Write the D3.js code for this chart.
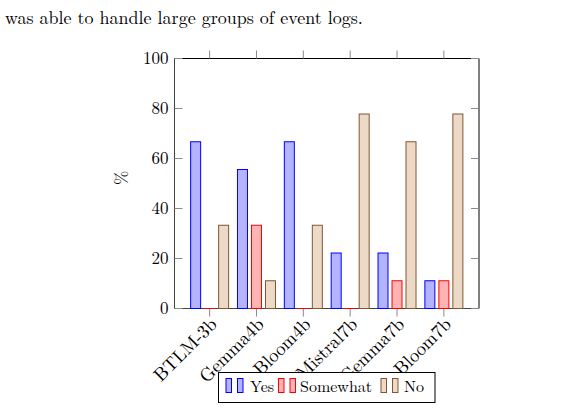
<!DOCTYPE html>
<html><head><meta charset="utf-8">
<script src="https://cdn.jsdelivr.net/npm/d3@7"></script>
</head>
<body style="margin:0;background:#fff"><svg id="c" width="577" height="410"></svg>
<script>
const caption = "was able to handle large groups of event logs.";
const categories = ["BTLM-3b","Gemma4b","Bloom4b","Mistral7b","Gemma7b","Bloom7b"];
const seriesNames = ["Yes","Somewhat","No"];
const yesValues = [66.7, 55.6, 66.7, 22.2, 22.2, 11.1];
const somewhatValues = [0, 33.3, 0, 0, 11.1, 11.1];
const noValues = [33.3, 11.1, 33.3, 77.8, 66.7, 77.8];
const yTicks = [0, 20, 40, 60, 80, 100];
const yLabel = "%";

const FONT = '"Latin Modern Roman", "Liberation Serif", serif';
const FS = 17;

const series = [
  {name: seriesNames[0], values: yesValues, fill: "#b3b3ff", stroke: "#0000ff"},
  {name: seriesNames[1], values: somewhatValues, fill: "#ffb3b3", stroke: "#ff0000"},
  {name: seriesNames[2], values: noValues, fill: "#ecd9c6", stroke: "#825633"}
];

const svg = d3.select("#c");
const L = 174.5, R = 479, T = 58.5, B = 308.5;

const cap = svg.append("text").attr("x", 5).attr("y", 24).attr("font-family", FONT).attr("font-size", FS).text(caption);
const capW = cap.node().getComputedTextLength();
cap.attr("font-size", FS * 358 / capW);

const x = d3.scalePoint().domain(categories).range([L, R]).padding(0.75);
const off = d3.scalePoint().domain(seriesNames).range([-14, 14]);
const bw = 10;
const y = d3.scaleLinear().domain([0, 100]).range([B, T]);

// frame
svg.append("line").attr("x1", L).attr("x2", R).attr("y1", T).attr("y2", T).attr("stroke", "#000");
svg.append("line").attr("x1", R).attr("x2", R).attr("y1", T).attr("y2", B).attr("stroke", "#000");
svg.append("line").attr("x1", L).attr("x2", L).attr("y1", T).attr("y2", B).attr("stroke", "#444");
svg.append("line").attr("x1", L).attr("x2", R).attr("y1", B).attr("y2", B).attr("stroke", "#444");

// ticks
const tickCol = "#8a8a8a";
const gx = svg.append("g");
categories.forEach(c => {
  gx.append("line").attr("x1", x(c)).attr("x2", x(c)).attr("y1", T - 8).attr("y2", T).attr("stroke", tickCol);
  gx.append("line").attr("x1", x(c)).attr("x2", x(c)).attr("y1", B).attr("y2", B + 8).attr("stroke", tickCol);
});
yTicks.forEach(t => {
  gx.append("line").attr("x1", L).attr("x2", L + 8).attr("y1", y(t)).attr("y2", y(t)).attr("stroke", tickCol);
  gx.append("line").attr("x1", R - 8).attr("x2", R).attr("y1", y(t)).attr("y2", y(t)).attr("stroke", tickCol);
});

// bars
series.forEach(s => {
  svg.append("g").selectAll("rect").data(s.values).join("rect")
    .attr("x", (d, i) => x(categories[i]) + off(s.name) - bw / 2)
    .attr("y", d => y(d))
    .attr("width", bw)
    .attr("height", d => Math.max(0.01, y(0) - y(d)))
    .attr("fill", s.fill).attr("stroke", s.stroke).attr("stroke-width", 1);
});

// y tick labels via axis
const yAxis = svg.append("g").attr("transform", `translate(${L},0)`)
  .call(d3.axisLeft(y).tickValues(yTicks).tickSize(0).tickPadding(6));
yAxis.attr("font-family", FONT).attr("font-size", FS);
yAxis.select(".domain").remove();
yAxis.selectAll("text").attr("font-family", FONT).attr("font-size", FS).attr("fill", "#000").attr("dy", "0.32em");

// x tick labels
const xAxis = svg.append("g").attr("transform", `translate(0,${B})`)
  .call(d3.axisBottom(x).tickSize(0).tickPadding(0));
xAxis.attr("font-family", FONT).attr("font-size", 18.5);
xAxis.select(".domain").remove();
xAxis.selectAll("text")
  .attr("font-family", FONT).attr("font-size", 18.5).attr("fill", "#000")
  .attr("text-anchor", "end")
  .attr("dy", "0.3em").attr("y", 0).attr("x", 0)
  .attr("transform", "translate(4,13) rotate(-45)");

// y label
svg.append("text").attr("transform", "translate(126.5,178) rotate(-90)")
  .attr("text-anchor", "middle").attr("font-family", FONT).attr("font-size", FS).text(yLabel);

// legend
const lg = svg.append("g");
lg.append("rect").attr("x", 218.5).attr("y", 372.5).attr("width", 216.5).attr("height", 30)
  .attr("fill", "#fff").attr("stroke", "#000");
const legX = [226, 278.5, 381];
const legTextX = [250, 300, 404];
series.forEach((s, i) => {
  [0, 11.5].forEach(dx => {
    lg.append("rect").attr("x", legX[i] + dx).attr("y", 378.5).attr("width", 5.5).attr("height", 14)
      .attr("fill", s.fill).attr("stroke", s.stroke);
  });
  lg.append("text").attr("x", legTextX[i]).attr("y", 392.3).attr("font-family", FONT).attr("font-size", 16).text(s.name);
});
</script></body></html>
